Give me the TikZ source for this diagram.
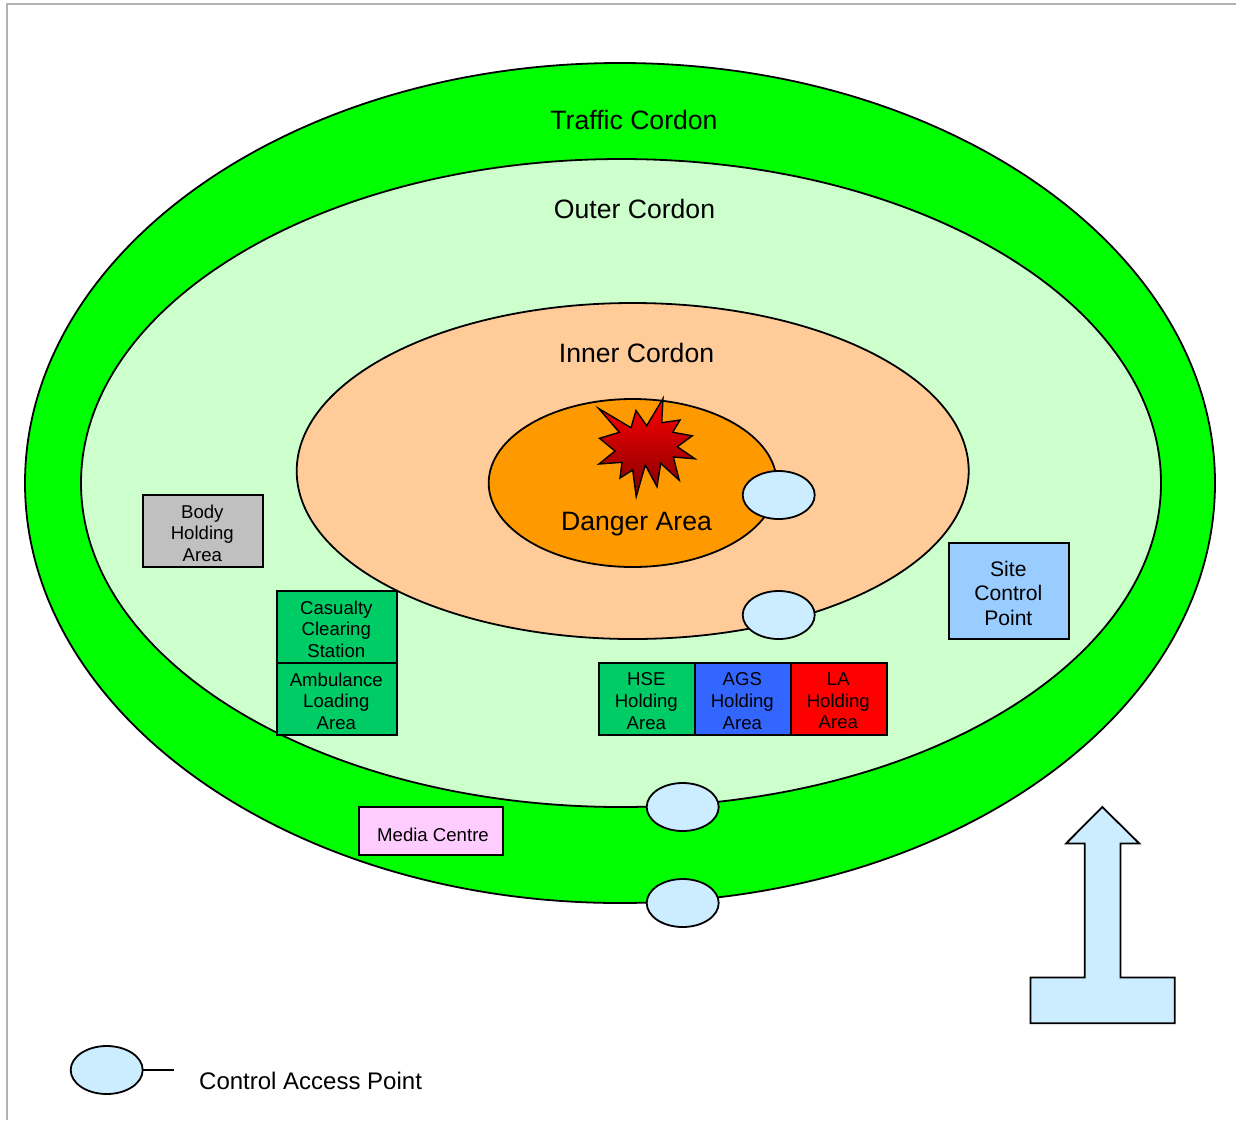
\documentclass[tikz,border=0pt]{standalone}
\usepackage{fontspec}
\setmainfont{Liberation Sans}
\usetikzlibrary{shapes.geometric}
\definecolor{cTraffic}{HTML}{00FF00}
\definecolor{cOuter}{HTML}{CCFFCC}
\definecolor{cInner}{HTML}{FFCC99}
\definecolor{cDanger}{HTML}{FF9900}
\definecolor{cAccess}{HTML}{CCECFF}
\definecolor{cGreen}{HTML}{00CC66}
\definecolor{cBlue}{HTML}{3366FF}
\definecolor{cSite}{HTML}{99CCFF}
\definecolor{cMedia}{HTML}{FFCCFF}
\definecolor{cBody}{HTML}{C0C0C0}
\definecolor{cFrame}{HTML}{B2B2B2}
\tikzset{
  zone/.style={ellipse,draw=black,line width=1.8pt,inner sep=0pt,outer sep=0pt},
  access/.style={ellipse,draw=black,line width=1.8pt,fill=cAccess,inner sep=0pt,outer sep=0pt,minimum width=72pt,minimum height=48pt},
  areabox/.style={rectangle,draw=black,line width=1.8pt,inner sep=0pt,outer sep=0pt,align=center,font=\fontsize{18.6}{21.6}\selectfont},
  boxtext/.style={inner sep=0pt,align=center,font=\fontsize{18.6}{21.6}\selectfont},
  bigtext/.style={inner sep=0pt,font=\fontsize{26.6}{30}\selectfont},
}
\begin{document}
\begin{tikzpicture}[x=1pt,y=-1pt]
\useasboundingbox (0,0) rectangle (1236,1120);
\draw[cFrame,line width=2pt] (7,1120) -- (7,3.5) -- (1236,3.5);
% cordons
\node[zone,fill=cTraffic,minimum width=1190pt,minimum height=840pt] (traffic) at (620,483) {};
\node[zone,fill=cOuter,minimum width=1080pt,minimum height=648pt] (outer) at (621,483) {};
\node[zone,fill=cInner,minimum width=672pt,minimum height=336pt] (inner) at (632.7,471) {};
\node[zone,fill=cDanger,minimum width=288pt,minimum height=168pt] (danger) at (632.7,483) {};
% explosion
\draw[black,line width=1.4pt,line join=miter,top color=red!100,bottom color=black!50!red,shading angle=0]
 (663,398.5) -- (661.7,422.7) -- (680,420) -- (672.7,432.3) -- (692.3,435.8) -- (677.3,446.7)
 -- (695,458.8) -- (673.3,457) -- (679.3,480.3) -- (660.7,463.3) -- (657,486.7) -- (645.3,465)
 -- (636.2,496.7) -- (632.7,470) -- (620,478) -- (622,462.3) -- (599,464) -- (615,451)
 -- (599.5,438.3) -- (619.3,432.3) -- (598.7,408.5) -- (631,427.7) -- (636,410.5) -- (646.7,425.7) -- cycle;
% labels
\node[bigtext] (ltraffic) at (634,120) {Traffic Cordon};
\node[bigtext] (louter) at (634.5,209) {Outer Cordon};
\node[bigtext] (linner) at (636.5,353) {Inner Cordon};
\node[bigtext,anchor=base] (ldanger) at (636.5,530.5) {Danger Area};
% boxes
\node[areabox,fill=cBody,minimum width=120pt,minimum height=72pt] (body) at (202.7,531) {};
\node[boxtext] (lbody) at (202.3,533) {Body\\Holding\\Area};
\node[areabox,fill=cGreen,minimum width=120pt,minimum height=72pt] (casualty) at (336.7,627) {};
\node[boxtext] (lcasualty) at (336.3,629) {Casualty\\Clearing\\Station};
\node[areabox,fill=cGreen,minimum width=120pt,minimum height=72pt] (ambulance) at (336.7,699) {};
\node[boxtext] (lambulance) at (336.3,701) {Ambulance\\Loading\\Area};
\node[areabox,fill=cGreen,minimum width=96pt,minimum height=72pt] (hse) at (646.7,699) {};
\node[boxtext] (lhse) at (646.3,701) {HSE\\Holding\\Area};
\node[areabox,fill=cBlue,minimum width=96pt,minimum height=72pt] (ags) at (742.7,699) {};
\node[boxtext] (lags) at (742.3,701) {AGS\\Holding\\Area};
\node[areabox,fill=red,minimum width=96pt,minimum height=72pt] (la) at (838.7,699) {};
\node[boxtext] (lla) at (838.3,701) {LA\\Holding\\Area};
\node[areabox,fill=cSite,minimum width=120pt,minimum height=96pt] (site) at (1008.7,591) {};
\node[boxtext,font=\fontsize{21.1}{24.5}\selectfont] (lsite) at (1008.3,593) {Site\\Control\\Point};
\node[areabox,fill=cMedia,minimum width=144pt,minimum height=48pt] (media) at (430.7,831) {};
\node[boxtext] (lmedia) at (433,835) {Media Centre};
% access points
\node[access] (a1) at (778.7,495) {};
\node[access] (a2) at (778.7,615) {};
\node[access] (a3) at (682.7,807) {};
\node[access] (a4) at (682.7,903) {};
\node[access] (a5) at (106.7,1070) {};
\coordinate (legendend) at (174,1070);
\draw[black,line width=1.8pt] (a5.east) -- (legendend);
\node[inner sep=0pt,anchor=base west,font=\fontsize{24}{28}\selectfont] (llegend) at (199,1089.5) {Control Access Point};
% direction arrow
\draw[black,line width=1.8pt,fill=cAccess,line join=miter]
 (1102.3,807) -- (1139.3,843.5) -- (1120.5,843.5) -- (1120.5,977.5) -- (1174.7,977.5) -- (1174.7,1023.3)
 -- (1030.5,1023.3) -- (1030.5,977.5) -- (1084.7,977.5) -- (1084.7,843.5) -- (1066,843.5) -- cycle;
\end{tikzpicture}
\end{document}
